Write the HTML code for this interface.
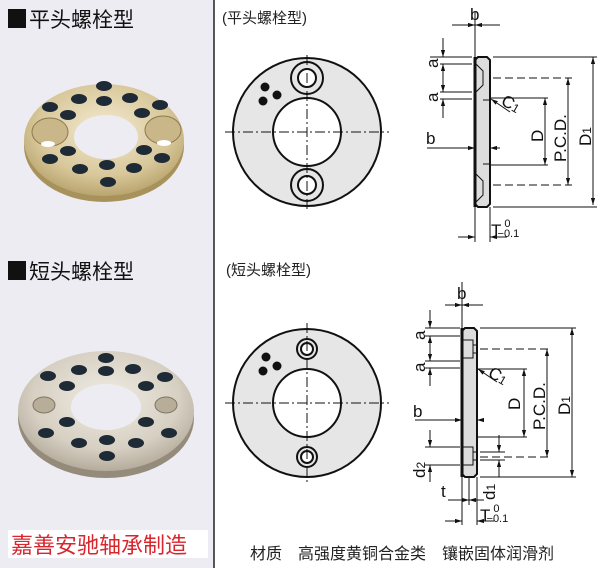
<!DOCTYPE html>
<html><head><meta charset="utf-8"><style>
html,body{margin:0;padding:0;background:#fff;}
svg{display:block;}
text{font-family:"Liberation Sans","Noto Sans CJK SC",sans-serif;}
</style></head><body>
<svg width="600" height="568" viewBox="0 0 600 568" xmlns="http://www.w3.org/2000/svg">
<defs>
<radialGradient id="brass" cx="50%" cy="40%" r="60%"><stop offset="0" stop-color="#f4ead0"/><stop offset="0.7" stop-color="#d8c79a"/><stop offset="1" stop-color="#b9a56f"/></radialGradient>
<radialGradient id="silver" cx="50%" cy="40%" r="60%"><stop offset="0" stop-color="#f1ede4"/><stop offset="0.7" stop-color="#d6cfc2"/><stop offset="1" stop-color="#b5ac9c"/></radialGradient>
<marker id="a" viewBox="0 0 10 10" refX="10" refY="5" markerWidth="7" markerHeight="7" orient="auto-start-reverse"><path d="M0,2 L10,5 L0,8z" fill="#111"/></marker>
</defs>
<rect x="0" y="0" width="214" height="568" fill="#edecf2"/>
<line x1="214" y1="0" x2="214" y2="568" stroke="#222" stroke-width="1.5"/>
<rect x="8" y="9" width="18" height="19" fill="#111"/>
<text x="29" y="27" font-size="21" fill="#111">平头螺栓型</text>
<rect x="8" y="261" width="18" height="19" fill="#111"/>
<text x="29" y="279" font-size="21" fill="#111">短头螺栓型</text>
<ellipse cx="104" cy="146" rx="80" ry="56" fill="#a8925c"/>
<ellipse cx="104" cy="140" rx="80" ry="56" fill="url(#brass)"/>
<ellipse cx="106" cy="137" rx="32" ry="22" fill="#edecf2"/>
<g fill="#1e2a35">
<ellipse cx="104" cy="86" rx="8" ry="5"/><ellipse cx="79" cy="99" rx="8" ry="5"/><ellipse cx="130" cy="98" rx="8" ry="5"/><ellipse cx="104" cy="101" rx="8" ry="5"/>
<ellipse cx="50" cy="107" rx="8" ry="5"/><ellipse cx="160" cy="105" rx="8" ry="5"/><ellipse cx="68" cy="115" rx="8" ry="5"/><ellipse cx="142" cy="113" rx="8" ry="5"/>
<ellipse cx="68" cy="151" rx="8" ry="5"/><ellipse cx="144" cy="150" rx="8" ry="5"/><ellipse cx="50" cy="159" rx="8" ry="5"/><ellipse cx="162" cy="158" rx="8" ry="5"/>
<ellipse cx="80" cy="169" rx="8" ry="5"/><ellipse cx="107" cy="165" rx="8" ry="5"/><ellipse cx="134" cy="168" rx="8" ry="5"/><ellipse cx="108" cy="182" rx="8" ry="5"/>
</g>
<ellipse cx="50" cy="132" rx="18" ry="14" fill="#c9b78a" stroke="#8d7a4e"/><ellipse cx="48" cy="144" rx="7" ry="3" fill="#fff"/>
<ellipse cx="163" cy="130" rx="18" ry="14" fill="#c9b78a" stroke="#8d7a4e"/><ellipse cx="164" cy="143" rx="7" ry="3" fill="#fff"/>
<ellipse cx="106" cy="418" rx="88" ry="60" fill="#958b7b"/>
<ellipse cx="106" cy="411" rx="88" ry="60" fill="url(#silver)"/>
<ellipse cx="106" cy="407" rx="35" ry="23" fill="#edecf2"/>
<g fill="#1e2a35">
<ellipse cx="106" cy="358" rx="8" ry="5"/><ellipse cx="79" cy="370" rx="8" ry="5"/><ellipse cx="106" cy="371" rx="8" ry="5"/><ellipse cx="133" cy="369" rx="8" ry="5"/>
<ellipse cx="48" cy="376" rx="8" ry="5"/><ellipse cx="165" cy="377" rx="8" ry="5"/><ellipse cx="67" cy="386" rx="8" ry="5"/><ellipse cx="146" cy="386" rx="8" ry="5"/>
<ellipse cx="67" cy="422" rx="8" ry="5"/><ellipse cx="146" cy="422" rx="8" ry="5"/><ellipse cx="46" cy="433" rx="8" ry="5"/><ellipse cx="169" cy="433" rx="8" ry="5"/>
<ellipse cx="79" cy="443" rx="8" ry="5"/><ellipse cx="107" cy="440" rx="8" ry="5"/><ellipse cx="136" cy="443" rx="8" ry="5"/><ellipse cx="107" cy="456" rx="8" ry="5"/>
</g>
<ellipse cx="44" cy="405" rx="11" ry="8" fill="#b8ad98" stroke="#7d7464"/><ellipse cx="166" cy="405" rx="11" ry="8" fill="#b8ad98" stroke="#7d7464"/>
<rect x="8" y="530" width="200" height="28" fill="#fff"/>
<text x="11" y="553" font-size="22" fill="#d8262e" font-family="Liberation Serif,'Noto Serif CJK SC',serif">嘉善安驰轴承制造</text>

<text x="222" y="23" font-size="15" fill="#222">(平头螺栓型)</text>
<text x="226" y="275" font-size="15" fill="#222">(短头螺栓型)</text>
<g stroke="#111" stroke-width="2">
<circle cx="307" cy="132" r="74" fill="#e6e6e6"/><circle cx="307" cy="132" r="34" fill="#fff"/>
<circle cx="307" cy="78" r="16" fill="#e6e6e6"/><circle cx="307" cy="78" r="9" fill="#fff"/>
<circle cx="307" cy="185" r="16" fill="#e6e6e6"/><circle cx="307" cy="185" r="9" fill="#fff"/>
<circle cx="307" cy="403" r="74" fill="#e6e6e6"/><circle cx="307" cy="403" r="34" fill="#fff"/>
<circle cx="307" cy="349" r="10" fill="#e6e6e6"/><circle cx="307" cy="349" r="6" fill="#fff"/>
<circle cx="307" cy="457" r="10" fill="#e6e6e6"/><circle cx="307" cy="457" r="6" fill="#fff"/>
</g>
<g fill="#111"><circle cx="265" cy="87" r="4.5"/><circle cx="277" cy="95" r="4.5"/><circle cx="263" cy="101" r="4.5"/>
<circle cx="266" cy="357" r="4.5"/><circle cx="277" cy="366" r="4.5"/><circle cx="263" cy="371" r="4.5"/></g>
<g stroke="#111" stroke-width="1" stroke-dasharray="10,3,2,3" fill="none">
<line x1="225" y1="132" x2="389" y2="132"/><line x1="307" y1="55" x2="307" y2="212"/>
<line x1="225" y1="403" x2="389" y2="403"/><line x1="307" y1="323" x2="307" y2="485"/>
</g>
<text x="250" y="559" font-size="16" fill="#222">材质　高强度黄铜合金类　镶嵌固体润滑剂</text>

<g stroke="#111" stroke-width="1" fill="none">
<path d="M475,60 L478,57 L487,57 L490,60 L490,204 L487,207 L478,207 L475,204Z" fill="#ddd" stroke-width="2"/>
<line x1="475" y1="57" x2="475" y2="207" stroke-width="3"/>
<path d="M476,64 L483,71 L483,85 L476,92 M476,174 L483,181 L483,195 L476,202" />
<line x1="483" y1="100" x2="490" y2="100"/><line x1="483" y1="164" x2="490" y2="164"/>
<line x1="475" y1="12" x2="475" y2="57"/><line x1="452" y1="25" x2="475" y2="25" marker-end="url(#a)"/><line x1="500" y1="25" x2="475" y2="25" marker-end="url(#a)"/>
<line x1="430" y1="57" x2="472" y2="57"/><line x1="440" y1="64" x2="472" y2="64"/><line x1="440" y1="92" x2="472" y2="92"/><line x1="440" y1="99" x2="472" y2="99"/>
<line x1="443" y1="38" x2="443" y2="57" marker-end="url(#a)"/><line x1="443" y1="78" x2="443" y2="64" marker-end="url(#a)"/><line x1="443" y1="78" x2="443" y2="92" marker-end="url(#a)"/><line x1="443" y1="118" x2="443" y2="99" marker-end="url(#a)"/>
<line x1="427" y1="148" x2="475" y2="148" marker-end="url(#a)"/><line x1="500" y1="148" x2="490" y2="148" marker-end="url(#a)"/>
<line x1="493" y1="57" x2="597" y2="57"/><line x1="493" y1="207" x2="597" y2="207"/>
<line x1="593" y1="132" x2="593" y2="57" marker-end="url(#a)"/><line x1="593" y1="132" x2="593" y2="205" marker-end="url(#a)"/>
<line x1="493" y1="78" x2="572" y2="78" stroke-dasharray="8,4"/><line x1="493" y1="185" x2="572" y2="185" stroke-dasharray="8,4"/>
<line x1="568" y1="132" x2="568" y2="78" marker-end="url(#a)"/><line x1="568" y1="132" x2="568" y2="185" marker-end="url(#a)"/>
<line x1="490" y1="98" x2="548" y2="98"/><line x1="490" y1="165" x2="548" y2="165"/>
<line x1="545" y1="132" x2="545" y2="98" marker-end="url(#a)"/><line x1="545" y1="132" x2="545" y2="165" marker-end="url(#a)"/>
<line x1="510" y1="112" x2="491" y2="99" marker-end="url(#a)"/>
<line x1="475" y1="207" x2="475" y2="242"/><line x1="490" y1="207" x2="490" y2="242"/>
<line x1="458" y1="237" x2="475" y2="237" marker-end="url(#a)"/><line x1="507" y1="237" x2="490" y2="237" marker-end="url(#a)"/>
</g>
<g font-size="17" fill="#111">
<text x="470" y="20">b</text>
<text x="426" y="144">b</text>
<text transform="translate(438,68) rotate(-90)">a</text>
<text transform="translate(438,102) rotate(-90)">a</text>
<text transform="translate(543,142) rotate(-90)">D</text>
<text transform="translate(566,162) rotate(-90)">P.C.D.</text>
<text transform="translate(591,146) rotate(-90)">D<tspan font-size="12">1</tspan></text>
<text transform="translate(500,104) rotate(30)">C<tspan font-size="12">1</tspan></text>
<text x="491" y="236">T<tspan font-size="11" dy="-9" dx="3">0</tspan><tspan font-size="11" dx="-13" dy="10">−0.1</tspan></text>
</g>

<g stroke="#111" stroke-width="1" fill="none">
<path d="M462,331 L465,328 L474,328 L477,331 L477,474 L474,477 L465,477 L462,474Z" fill="#ddd" stroke-width="2"/>
<line x1="462" y1="328" x2="462" y2="477" stroke-width="3"/>
<rect x="463" y="340" width="10" height="18"/><rect x="463" y="447" width="10" height="18"/>
<line x1="473" y1="345" x2="477" y2="345"/><line x1="473" y1="353" x2="477" y2="353"/><line x1="473" y1="452" x2="477" y2="452"/><line x1="473" y1="460" x2="477" y2="460"/>
<line x1="477" y1="369" x2="527" y2="369"/><line x1="477" y1="437" x2="527" y2="437"/>
<line x1="462" y1="282" x2="462" y2="328"/><line x1="445" y1="305" x2="462" y2="305" marker-end="url(#a)"/><line x1="483" y1="305" x2="462" y2="305" marker-end="url(#a)"/>
<line x1="425" y1="328" x2="460" y2="328"/><line x1="425" y1="336" x2="460" y2="336"/><line x1="425" y1="361" x2="460" y2="361"/><line x1="425" y1="368" x2="460" y2="368"/>
<line x1="430" y1="310" x2="430" y2="328" marker-end="url(#a)"/><line x1="430" y1="348" x2="430" y2="336" marker-end="url(#a)"/><line x1="430" y1="348" x2="430" y2="361" marker-end="url(#a)"/><line x1="430" y1="386" x2="430" y2="368" marker-end="url(#a)"/>
<line x1="415" y1="420" x2="462" y2="420" marker-end="url(#a)"/><line x1="484" y1="420" x2="477" y2="420" marker-end="url(#a)"/>
<line x1="425" y1="447" x2="460" y2="447"/><line x1="425" y1="465" x2="460" y2="465"/>
<line x1="430" y1="430" x2="430" y2="447" marker-end="url(#a)"/><line x1="430" y1="482" x2="430" y2="465" marker-end="url(#a)"/>
<line x1="480" y1="328" x2="576" y2="328"/><line x1="480" y1="477" x2="576" y2="477"/>
<line x1="572" y1="400" x2="572" y2="328" marker-end="url(#a)"/><line x1="572" y1="400" x2="572" y2="477" marker-end="url(#a)"/>
<line x1="480" y1="349" x2="552" y2="349" stroke-dasharray="8,4"/><line x1="480" y1="457" x2="552" y2="457" stroke-dasharray="8,4"/>
<line x1="547" y1="400" x2="547" y2="349" marker-end="url(#a)"/><line x1="547" y1="400" x2="547" y2="457" marker-end="url(#a)"/>
<line x1="524" y1="400" x2="524" y2="369" marker-end="url(#a)"/><line x1="524" y1="400" x2="524" y2="437" marker-end="url(#a)"/>
<line x1="480" y1="452" x2="505" y2="452"/><line x1="480" y1="460" x2="505" y2="460"/>
<line x1="499" y1="435" x2="499" y2="452" marker-end="url(#a)"/><line x1="499" y1="477" x2="499" y2="460" marker-end="url(#a)"/>
<line x1="497" y1="382" x2="478" y2="369" marker-end="url(#a)"/>
<line x1="469" y1="477" x2="469" y2="505"/><line x1="477" y1="477" x2="477" y2="525"/><line x1="462" y1="477" x2="462" y2="525"/>
<line x1="448" y1="500" x2="469" y2="500" marker-end="url(#a)"/><line x1="484" y1="500" x2="469" y2="500" marker-end="url(#a)"/>
<line x1="445" y1="521" x2="462" y2="521" marker-end="url(#a)"/><line x1="494" y1="521" x2="477" y2="521" marker-end="url(#a)"/>
</g>
<g font-size="17" fill="#111">
<text x="457" y="299">b</text>
<text x="413" y="417">b</text>
<text x="441" y="497">t</text>
<text transform="translate(425,340) rotate(-90)">a</text>
<text transform="translate(425,372) rotate(-90)">a</text>
<text transform="translate(425,478) rotate(-90)">d<tspan font-size="12">2</tspan></text>
<text transform="translate(495,500) rotate(-90)">d<tspan font-size="12">1</tspan></text>
<text transform="translate(520,410) rotate(-90)">D</text>
<text transform="translate(545,430) rotate(-90)">P.C.D.</text>
<text transform="translate(570,415) rotate(-90)">D<tspan font-size="12">1</tspan></text>
<text transform="translate(487,376) rotate(30)">C<tspan font-size="12">1</tspan></text>
<text x="480" y="521">T<tspan font-size="11" dy="-9" dx="3">0</tspan><tspan font-size="11" dx="-13" dy="10">−0.1</tspan></text>
</g>
</svg>
</body></html>
